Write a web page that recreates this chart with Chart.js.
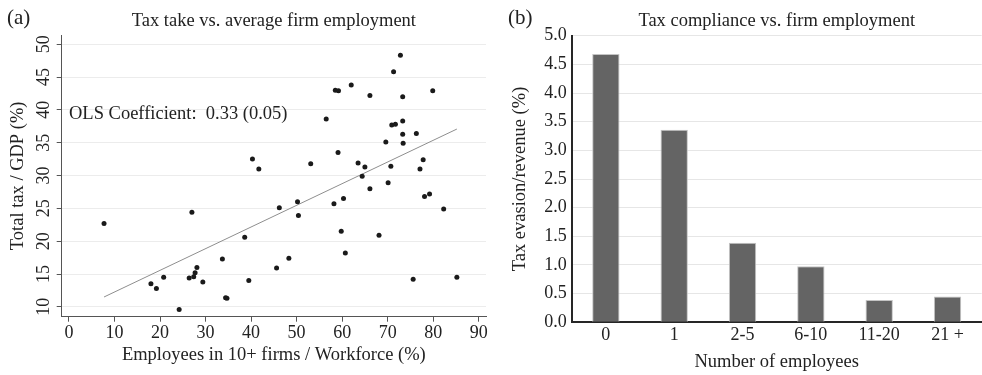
<!DOCTYPE html>
<html>
<head>
<meta charset="utf-8">
<script src="https://cdn.jsdelivr.net/npm/chart.js@4.4.1/dist/chart.umd.min.js"></script>
<style>
  html, body { margin: 0; padding: 0; background: #fff; }
  #wrap { position: relative; width: 982px; height: 375px; overflow: hidden; }
  #cA { position: absolute; left: 0; top: 0; }
  #cB { position: absolute; left: 490px; top: 0; }
</style>
</head>
<body>
<div id="wrap">
  <canvas id="cA" width="490" height="375"></canvas>
  <canvas id="cB" width="492" height="375"></canvas>
</div>
<script>
// Panel (a): employees in 10+ firms (% of workforce) and total tax (% of GDP), one point per country
const employShare = [
  72.8, 71.3, 58.5, 59.2, 62.0, 66.1, 73.3, 79.9, 56.5, 73.3,
  70.9, 71.7, 73.3, 76.3, 69.6, 73.4, 59.1, 40.3, 41.7, 53.1,
  63.5, 65.0, 70.7, 77.8, 77.1, 64.4, 70.1, 66.1, 78.1, 79.2,
  82.3, 58.2, 60.3, 46.2, 50.2, 50.4, 27.0, 7.7, 59.8, 68.1,
  38.6, 60.7, 33.7, 48.3, 28.1, 45.6, 27.7, 26.4, 27.4, 20.8,
  29.4, 39.5, 18.0, 19.2, 34.4, 34.7, 24.2, 75.6, 85.2
];
const taxGdp = [
  48.3, 45.8, 43.0, 42.9, 43.8, 42.2, 42.0, 42.9, 38.6, 38.3,
  37.7, 37.8, 36.3, 36.4, 35.1, 34.9, 33.5, 32.5, 31.0, 31.8,
  31.9, 31.3, 31.4, 32.4, 31.0, 29.9, 28.9, 28.0, 26.8, 27.2,
  24.9, 25.7, 26.5, 25.1, 26.0, 23.9, 24.4, 22.7, 21.5, 20.9,
  20.6, 18.2, 17.3, 17.4, 16.0, 15.9, 15.2, 14.4, 14.6, 14.5,
  13.8, 14.0, 13.5, 12.8, 11.4, 11.3, 9.6, 14.2, 14.5
];
// OLS fit
const olsSlope = 0.33;
const olsSE = 0.05;
const olsIntercept = 8.96;

const xTicksA = [0, 10, 20, 30, 40, 50, 60, 70, 80, 90];
const yTicksA = [10, 15, 20, 25, 30, 35, 40, 45, 50];

// Panel (b): tax evasion as % of revenue by firm size
const sizeClasses = ['0', '1', '2-5', '6-10', '11-20', '21 +'];
const evasionShare = [4.68, 3.36, 1.39, 0.98, 0.39, 0.45];
const yTicksB = [0, 0.5, 1, 1.5, 2, 2.5, 3, 3.5, 4, 4.5, 5];

const SERIF = '"Liberation Serif", "Times New Roman", Times, serif';
Chart.defaults.font.family = SERIF;
Chart.defaults.color = '#222';

const INK = '#222';

// Panel heading: tag such as "(a)" on the left, title centred over the plot area
function headingPlugin(tag, tagX, title) {
  return {
    id: 'heading',
    afterDraw(chart) {
      const ctx = chart.ctx;
      const area = chart.chartArea;
      ctx.save();
      ctx.fillStyle = INK;
      ctx.textBaseline = 'alphabetic';
      ctx.font = '21px ' + SERIF;
      ctx.textAlign = 'left';
      ctx.fillText(tag, tagX, 23.5);
      ctx.font = '18.5px ' + SERIF;
      ctx.textAlign = 'center';
      ctx.fillText(title, (area.left + area.right) / 2, 25.5);
      ctx.restore();
    }
  };
}

// Regression note placed in data coordinates
const olsNote = {
  id: 'olsNote',
  afterDraw(chart) {
    const ctx = chart.ctx;
    const x = chart.scales.x.getPixelForValue(0);
    const y = chart.scales.y.getPixelForValue(40);
    ctx.save();
    ctx.fillStyle = INK;
    ctx.font = '18.5px ' + SERIF;
    ctx.textAlign = 'left';
    ctx.textBaseline = 'alphabetic';
    ctx.fillText('OLS Coefficient:  ' + olsSlope.toFixed(2) + ' (' + olsSE.toFixed(2) + ')', x, y + 9);
    ctx.restore();
  }
};

const points = employShare.map((x, i) => ({ x: x, y: taxGdp[i] }));
const xMin = Math.min(...employShare);
const xMax = Math.max(...employShare);
const fitLine = [xMin, xMax].map(x => ({ x: x, y: olsIntercept + olsSlope * x }));

new Chart(document.getElementById('cA'), {
  type: 'scatter',
  data: {
    datasets: [
      {
        data: fitLine,
        showLine: true,
        borderColor: '#8e8e8e',
        borderWidth: 1,
        pointRadius: 0,
        order: 2
      },
      {
        data: points,
        backgroundColor: '#1a1a1a',
        borderWidth: 0,
        pointRadius: 2.5,
        order: 1
      }
    ]
  },
  options: {
    responsive: false,
    animation: false,
    events: [],
    layout: { padding: { top: 35, left: 0, right: 1, bottom: 0 } },
    plugins: { legend: { display: false }, tooltip: { enabled: false } },
    scales: {
      x: {
        type: 'linear',
        min: -1.6,
        max: 91.6,
        afterBuildTicks: s => { s.ticks = xTicksA.map(v => ({ value: v })); },
        afterFit: s => { s.height = 58.3; },
        grid: { drawOnChartArea: false, tickLength: 5, tickColor: '#555', lineWidth: 1 },
        border: { color: '#555', width: 1 },
        ticks: { padding: 1, font: { size: 18 }, color: INK, maxRotation: 0 },
        title: {
          display: true,
          text: 'Employees in 10+ firms / Workforce (%)',
          font: { size: 18.5 },
          color: INK,
          padding: { top: 0, bottom: 8.5 }
        }
      },
      y: {
        type: 'linear',
        min: 8.5,
        max: 51.4,
        afterBuildTicks: s => { s.ticks = yTicksA.map(v => ({ value: v })); },
        afterFit: s => { s.width = 61.7; },
        grid: { color: '#ececec', lineWidth: 1, tickLength: 5, tickColor: '#555' },
        border: { color: '#555', width: 1 },
        ticks: { padding: 3, font: { size: 18 }, color: INK, minRotation: 90, maxRotation: 90, crossAlign: 'center' },
        title: {
          display: true,
          text: 'Total tax / GDP (%)',
          font: { size: 18.5 },
          color: INK,
          padding: { top: 6.6, bottom: 0 }
        }
      }
    }
  },
  plugins: [headingPlugin('(a)', 7, 'Tax take vs. average firm employment'), olsNote]
});

new Chart(document.getElementById('cB'), {
  type: 'bar',
  data: {
    labels: sizeClasses,
    datasets: [{
      data: evasionShare,
      backgroundColor: '#646464',
      borderColor: '#c4c4c4',
      borderWidth: 1,
      barPercentage: 0.4,
      categoryPercentage: 1
    }]
  },
  options: {
    responsive: false,
    animation: false,
    events: [],
    layout: { padding: { top: 35.7, left: 0, right: 0.3, bottom: 0 } },
    plugins: { legend: { display: false }, tooltip: { enabled: false } },
    scales: {
      x: {
        afterFit: s => { s.height = 52.7; },
        grid: { drawOnChartArea: false, drawTicks: false },
        border: { color: '#262626', width: 2 },
        ticks: { padding: 2.6, font: { size: 18 }, color: INK, maxRotation: 0 },
        title: {
          display: true,
          text: 'Number of employees',
          font: { size: 18.5 },
          color: INK,
          padding: { top: 0, bottom: 1.9 }
        }
      },
      y: {
        min: 0,
        max: 5,
        afterBuildTicks: s => { s.ticks = yTicksB.map(v => ({ value: v })); },
        afterFit: s => { s.width = 81.7; },
        grid: { color: '#e6e6e6', lineWidth: 1, drawTicks: false },
        border: { color: '#262626', width: 2 },
        ticks: { padding: 5, font: { size: 18 }, color: INK, callback: v => Number(v).toFixed(1) },
        title: {
          display: true,
          text: 'Tax evasion/revenue (%)',
          font: { size: 18.5 },
          color: INK,
          padding: { top: 19.3, bottom: 0 }
        }
      }
    }
  },
  plugins: [headingPlugin('(b)', 18, 'Tax compliance vs. firm employment')]
});
</script>
</body>
</html>
